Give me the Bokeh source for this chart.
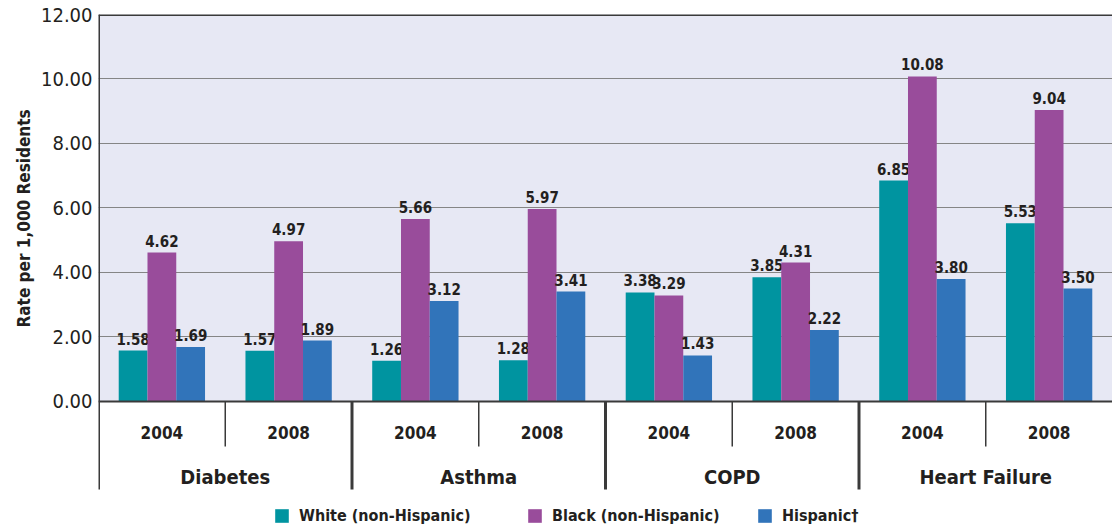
import math
from bokeh.plotting import figure
from bokeh.models import (FactorRange, Range1d, ColumnDataSource, FixedTicker,
                          NumeralTickFormatter, Span, BoxAnnotation, Title,
                          Legend, LegendItem)
from bokeh.transform import dodge
from bokeh.core.properties import value
from bokeh.embed import file_html
from bokeh.resources import INLINE

# ---------------- data ----------------
conditions = ["Diabetes", "Asthma", "COPD", "Heart Failure"]
years = ["2004", "2008"]
series = ["White (non-Hispanic)", "Black (non-Hispanic)", "Hispanic\u2020"]
white = [1.58, 1.57, 1.26, 1.28, 3.38, 3.85, 6.85, 5.53]
black = [4.62, 4.97, 5.66, 5.97, 3.29, 4.31, 10.08, 9.04]
hispanic = [1.69, 1.89, 3.12, 3.41, 1.43, 2.22, 3.80, 3.50]
y_ticks = [0, 2, 4, 6, 8, 10, 12]
y_title = "Rate per 1,000 Residents"

colors = ["#0094a0", "#994c9b", "#3174ba"]
FONT = "DejaVu Sans Condensed"
TXT = "#231f20"
LINE = "#3a3a3a"

factors = [(c, y) for c in conditions for y in years]

src = ColumnDataSource(dict(
    x=factors,
    white=white, black=black, hispanic=hispanic,
    white_l=[f"{v:.2f}" for v in white],
    black_l=[f"{v:.2f}" for v in black],
    hispanic_l=[f"{v:.2f}" for v in hispanic],
    year=[f[1] for f in factors],
))

p = figure(width=1112, height=527,
           x_range=FactorRange(*factors, factor_padding=0, group_padding=0,
                               subgroup_padding=0, range_padding=0),
           y_range=Range1d(-3.907, 12),
           output_backend="svg", toolbar_location=None,
           min_border_left=98, min_border_right=0,
           min_border_top=14, min_border_bottom=0)
p.outline_line_color = None
p.background_fill_color = "white"
p.border_fill_color = "white"

# lavender plotting background from 0 to 12
p.add_layout(BoxAnnotation(bottom=0, top=12, fill_color="#e7e8f4", fill_alpha=1,
                           line_color=None, level="image"))

# axes
p.xaxis.visible = False
p.xgrid.grid_line_color = None
p.ygrid.ticker = FixedTicker(ticks=y_ticks)
p.ygrid.grid_line_color = "#858585"
p.ygrid.grid_line_width = 1
p.yaxis.ticker = FixedTicker(ticks=y_ticks)
p.yaxis.formatter = NumeralTickFormatter(format="0.00")
p.yaxis.axis_line_color = None
p.yaxis.major_tick_line_color = None
p.yaxis.minor_tick_line_color = None
p.yaxis.major_tick_out = 0
p.yaxis.major_tick_in = 0
p.yaxis.major_label_standoff = 6
p.yaxis.major_label_text_font = FONT
p.yaxis.major_label_text_font_size = "20px"
p.yaxis.major_label_text_color = TXT

p.add_layout(Span(location=12, dimension="width", line_color=LINE, line_width=3))
p.add_layout(Span(location=0, dimension="width", line_color=LINE, line_width=2))

# bars
keys = ["white", "black", "hispanic"]
offsets = [-0.227, 0.0, 0.227]
bar_renderers = []
for k, off, col in zip(keys, offsets, colors):
    r = p.vbar(x=dodge("x", off, range=p.x_range), top=k, width=0.227,
               source=src, fill_color=col, line_color=None)
    bar_renderers.append(r)
    p.text(x=dodge("x", off, range=p.x_range), y=k, text=k + "_l", source=src,
           text_align="center", text_baseline="bottom", y_offset=-6,
           text_font=value(FONT), text_font_style="bold",
           text_font_size="15px", text_color=TXT)

# category labels (two levels)
p.text(x="x", y=-0.96, text="year", source=src, text_align="center",
       text_baseline="middle", text_font=value(FONT), text_font_style="bold",
       text_font_size="17px", text_color=TXT)
gsrc = ColumnDataSource(dict(x=conditions, t=conditions))
p.text(x="x", y=-2.33, text="t", source=gsrc, text_align="center",
       text_baseline="middle", text_font=value(FONT), text_font_style="bold",
       text_font_size="20px", text_color=TXT)

# separators
ysep = ColumnDataSource(dict(x=[(c, "2008") for c in conditions]))
p.segment(x0=dodge("x", -0.5, range=p.x_range), x1=dodge("x", -0.5, range=p.x_range),
          y0=0, y1=-1.395, source=ysep, line_color=LINE, line_width=1.5)
gsep = ColumnDataSource(dict(x=[(c, "2004") for c in conditions],
                             y0=[12, 0, 0, 0]))
p.segment(x0=dodge("x", -0.5, range=p.x_range), x1=dodge("x", -0.5, range=p.x_range),
          y0="y0", y1=-2.729, source=gsep, line_color=LINE, line_width=3)

# y axis title
p.add_layout(Title(text=y_title, align="left", offset=200, text_font=FONT,
                   text_font_style="bold", text_font_size="17px",
                   text_color=TXT), "left")

# legends (one per series)
leg_x = [175, 428, 658]
for name, r, lx in zip(series, bar_renderers, leg_x):
    lg = Legend(items=[LegendItem(label=name, renderers=[r])], location=(lx, 2),
                orientation="horizontal", glyph_width=17, glyph_height=17,
                label_standoff=9, padding=0, margin=0, spacing=0,
                border_line_color=None, background_fill_alpha=0,
                label_text_font=FONT, label_text_font_style="bold",
                label_text_font_size="16px", label_text_color=TXT)
    p.add_layout(lg)

open("out.html", "w").write(file_html(p, INLINE))
